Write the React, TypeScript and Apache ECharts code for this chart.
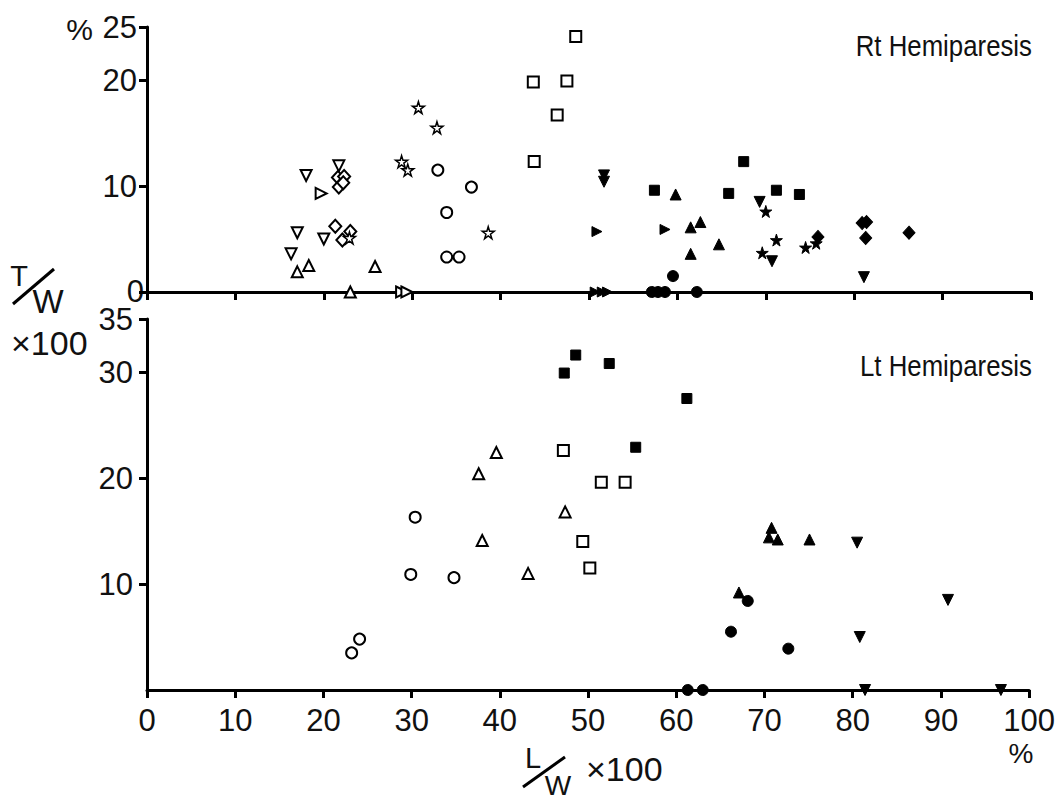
import React, { useEffect, useRef } from 'react';
import * as echarts from 'echarts';

// ---------- Axis ticks ----------
const xTicks = [0, 10, 20, 30, 40, 50, 60, 70, 80, 90, 100];
const rtYTicks = [0, 10, 20, 25];
const rtYLabels = [10, 20, 25];
const ltYTicks = [10, 20, 30, 35];

// ---------- Rt Hemiparesis (upper panel) ----------
const rtOpenTriDown = [[21.7, 11.9], [18.0, 11.0], [17.0, 5.6], [20.0, 5.0], [16.3, 3.6]];
const rtOpenTriUp = [[18.3, 2.5], [17.0, 1.9], [25.8, 2.4], [23.0, 0]];
const rtOpenDiamond = [[21.6, 10.8], [22.3, 10.9], [21.7, 9.9], [22.2, 10.3], [21.3, 6.2], [23.0, 5.7], [22.1, 4.9]];
const rtOpenTriRight = [[19.7, 9.3], [28.8, 0], [29.4, 0]];
const rtOpenStar = [[22.9, 5.1], [28.8, 12.3], [29.5, 11.5], [30.7, 17.4], [32.8, 15.5], [38.6, 5.6]];
const rtOpenCircle = [[32.9, 11.5], [36.7, 9.9], [33.9, 7.5], [33.9, 3.3], [35.3, 3.3]];
const rtOpenSquare = [[48.5, 24.1], [43.7, 19.8], [47.5, 19.9], [46.4, 16.7], [43.8, 12.3]];
const rtFillTriRight = [[50.9, 5.7], [58.6, 5.9], [50.7, 0], [51.5, 0], [52.1, 0]];
const rtFillTriDown = [[51.7, 11.0], [51.7, 10.4], [69.3, 8.5], [70.7, 2.9], [81.1, 1.4]];
const rtFillSquare = [[57.4, 9.6], [67.5, 12.3], [65.8, 9.3], [71.2, 9.6], [73.8, 9.2]];
const rtFillTriUp = [[59.8, 9.2], [61.5, 6.1], [62.6, 6.6], [64.7, 4.5], [61.5, 3.6]];
const rtFillStar = [[70.0, 7.6], [71.2, 4.9], [69.6, 3.7], [74.5, 4.2], [75.7, 4.6]];
const rtFillDiamond = [[75.9, 5.2], [80.9, 6.5], [81.4, 6.6], [81.3, 5.1], [86.2, 5.6]];
const rtFillCircle = [[59.5, 1.5], [57.1, 0], [57.8, 0], [58.6, 0], [62.2, 0]];

// ---------- Lt Hemiparesis (lower panel) ----------
const ltOpenCircle = [[30.4, 16.3], [29.9, 10.9], [34.8, 10.6], [24.1, 4.8], [23.2, 3.5]];
const ltOpenTriUp = [[39.6, 22.4], [37.6, 20.4], [38.0, 14.1], [43.2, 11.0], [47.4, 16.8]];
const ltOpenSquare = [[47.2, 22.6], [51.5, 19.6], [54.2, 19.6], [49.4, 14.0], [50.2, 11.5]];
const ltFillSquare = [[48.6, 31.6], [52.4, 30.8], [47.3, 29.9], [61.2, 27.5], [55.4, 22.9]];
const ltFillTriUp = [[70.8, 15.3], [70.5, 14.4], [71.5, 14.2], [75.1, 14.2], [67.1, 9.2]];
const ltFillTriDown = [[80.5, 13.9], [90.8, 8.5], [80.8, 5.0], [81.4, 0], [96.8, 0]];
const ltFillCircle = [[68.1, 8.4], [66.2, 5.5], [72.7, 3.9], [61.3, 0], [63.0, 0]];

const STAR = 'path://M50,0L61,35L98,35L68,57L79,91L50,70L21,91L32,57L2,35L39,35Z';
const TRI_DOWN = 'path://M0,0L10,0L5,9Z';
const TRI_RIGHT = 'path://M0,0L9,5L0,10Z';

const INK = '#000';
const TXT = '#111';
const FONT = '"Liberation Sans", Arial, sans-serif';

function sc(name: string, data: number[][], symbol: string, filled: boolean, panel: number, size: number | number[], bw = 2) {
  return {
    name,
    type: 'scatter',
    xAxisIndex: panel,
    yAxisIndex: panel,
    data,
    symbol,
    symbolSize: size,
    clip: false,
    itemStyle: filled
      ? { color: INK, borderColor: INK, borderWidth: 1, opacity: 1 }
      : { color: '#fff', borderColor: INK, borderWidth: bw, opacity: 1 },
    z: 5,
  };
}

export default function App() {
  const ref = useRef<HTMLDivElement>(null);
  useEffect(() => {
    document.body.style.margin = '0';
    if (!ref.current) return;
    const chart = echarts.init(ref.current, null, { renderer: 'svg' });
    const axisLine = { show: true, onZero: false, lineStyle: { color: INK, width: 3 } };
    const tickStyle = { show: true, inside: false, length: 8, lineStyle: { color: INK, width: 3 } };
    const labelStyle = { color: TXT, fontSize: 31, fontFamily: FONT, lineHeight: 24 };
    chart.setOption({
      animation: false,
      backgroundColor: '#fff',
      grid: [
        { left: 147, top: 27, width: 884, height: 265 },
        { left: 147, top: 319, width: 884, height: 371 },
      ],
      xAxis: [
        {
          gridIndex: 0, type: 'value', min: 0, max: 100, interval: 10,
          axisLine, axisTick: { ...tickStyle, customValues: xTicks }, axisLabel: { show: false }, splitLine: { show: false },
        },
        {
          gridIndex: 1, type: 'value', min: 0, max: 100, interval: 10,
          axisLine, axisTick: { ...tickStyle, customValues: xTicks },
          axisLabel: { ...labelStyle, margin: 18, customValues: xTicks }, splitLine: { show: false },
        },
      ],
      yAxis: [
        {
          gridIndex: 0, type: 'value', min: 0, max: 25, interval: 5,
          axisLine, axisTick: { ...tickStyle, customValues: rtYTicks },
          axisLabel: { ...labelStyle, margin: 10, customValues: rtYLabels }, splitLine: { show: false },
        },
        {
          gridIndex: 1, type: 'value', min: 0, max: 35, interval: 5,
          axisLine, axisTick: { ...tickStyle, customValues: ltYTicks },
          axisLabel: { ...labelStyle, margin: 14, customValues: ltYTicks }, splitLine: { show: false },
        },
      ],
      series: [
        sc('Rt open down triangle', rtOpenTriDown, TRI_DOWN, false, 0, 11),
        sc('Rt open triangle', rtOpenTriUp, 'triangle', false, 0, 11),
        sc('Rt open diamond', rtOpenDiamond, 'diamond', false, 0, [12, 13]),
        sc('Rt open right triangle', rtOpenTriRight, TRI_RIGHT, false, 0, 11),
        sc('Rt open star', rtOpenStar, STAR, false, 0, 12, 1.5),
        sc('Rt open circle', rtOpenCircle, 'circle', false, 0, 11),
        sc('Rt open square', rtOpenSquare, 'rect', false, 0, 11),
        sc('Rt filled right triangle', rtFillTriRight, TRI_RIGHT, true, 0, 10),
        sc('Rt filled down triangle', rtFillTriDown, TRI_DOWN, true, 0, 11),
        sc('Rt filled square', rtFillSquare, 'rect', true, 0, 10),
        sc('Rt filled triangle', rtFillTriUp, 'triangle', true, 0, 11),
        sc('Rt filled star', rtFillStar, STAR, true, 0, 12),
        sc('Rt filled diamond', rtFillDiamond, 'diamond', true, 0, [12, 13]),
        sc('Rt filled circle', rtFillCircle, 'circle', true, 0, 11),
        sc('Lt open circle', ltOpenCircle, 'circle', false, 1, 11),
        sc('Lt open triangle', ltOpenTriUp, 'triangle', false, 1, 11),
        sc('Lt open square', ltOpenSquare, 'rect', false, 1, 11),
        sc('Lt filled square', ltFillSquare, 'rect', true, 1, 10),
        sc('Lt filled triangle', ltFillTriUp, 'triangle', true, 1, 11),
        sc('Lt filled down triangle', ltFillTriDown, TRI_DOWN, true, 1, 11),
        sc('Lt filled circle', ltFillCircle, 'circle', true, 1, 11),
      ],
      graphic: [
        { type: 'text', x: 1032, y: 46, scaleX: 0.86, style: { text: 'Rt Hemiparesis', fill: TXT, font: `30px ${FONT}`, align: 'right', verticalAlign: 'middle' } },
        { type: 'text', x: 1032, y: 366, scaleX: 0.86, style: { text: 'Lt Hemiparesis', fill: TXT, font: `30px ${FONT}`, align: 'right', verticalAlign: 'middle' } },
        { type: 'text', x: 93, y: 29, style: { text: '%', fill: TXT, font: `30px ${FONT}`, align: 'right', verticalAlign: 'middle' } },
        // zero label of the upper y axis, tucked against the axis as in the original
        { type: 'text', x: 144, y: 291, style: { text: '0', fill: TXT, font: `31px ${FONT}`, align: 'right', verticalAlign: 'middle' } },
        // y-axis title T/W ×100
        { type: 'text', x: 19, y: 276, style: { text: 'T', fill: TXT, font: `29px ${FONT}`, align: 'center', verticalAlign: 'middle' } },
        { type: 'line', shape: { x1: 13, y1: 304, x2: 54, y2: 269 }, style: { stroke: INK, lineWidth: 3 } },
        { type: 'text', x: 48, y: 301, style: { text: 'W', fill: TXT, font: `33px ${FONT}`, align: 'center', verticalAlign: 'middle' } },
        { type: 'text', x: 11, y: 343, style: { text: '×100', fill: TXT, font: `34px ${FONT}`, align: 'left', verticalAlign: 'middle' } },
        // x-axis title L/W ×100
        { type: 'text', x: 533, y: 758, style: { text: 'L', fill: TXT, font: `29px ${FONT}`, align: 'center', verticalAlign: 'middle' } },
        { type: 'line', shape: { x1: 523, y1: 787, x2: 565, y2: 757 }, style: { stroke: INK, lineWidth: 3 } },
        { type: 'text', x: 558, y: 785, style: { text: 'W', fill: TXT, font: `28px ${FONT}`, align: 'center', verticalAlign: 'middle' } },
        { type: 'text', x: 586, y: 769, style: { text: '×100', fill: TXT, font: `34px ${FONT}`, align: 'left', verticalAlign: 'middle' } },
        { type: 'text', x: 1021, y: 753, style: { text: '%', fill: TXT, font: `28px ${FONT}`, align: 'center', verticalAlign: 'middle' } },
      ],
    });
    return () => chart.dispose();
  }, []);
  return <div ref={ref} style={{ width: 1058, height: 799 }} />;
}
